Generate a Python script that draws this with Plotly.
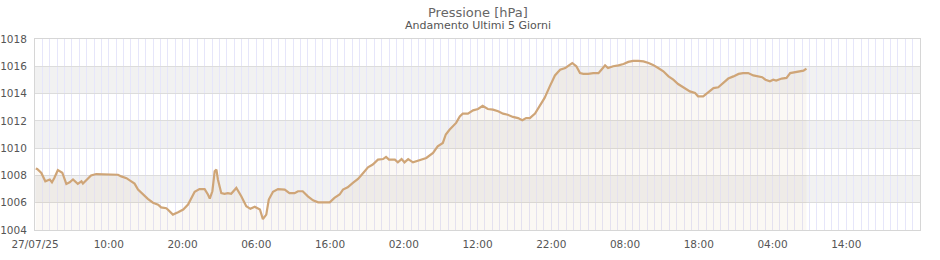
import pandas as pd
import plotly.graph_objects as go

# ---- data ----
start = "2025-07-27 00:00"
hours = [0.1, 0.3, 0.86, 1.4, 2.0, 2.3, 2.6, 3.1, 3.7, 4.25, 4.7, 5.15, 5.8, 6.3, 6.5, 7.0, 7.6, 8.3,
         9.2, 10.6, 11.25, 11.7, 12.4, 13.05, 13.5, 13.97, 14.6, 15.3, 16.0, 16.7, 17.1, 17.8, 18.0,
         18.7, 19.4, 20.1, 20.75, 21.2, 21.65, 22.3, 23.0, 23.45, 23.7, 24.05, 24.36, 24.6, 24.8,
         25.26, 25.7, 26.15, 26.6, 27.3, 27.97, 28.65, 29.2, 29.8, 30.5, 30.9, 31.36, 31.7, 32.27,
         32.95, 33.86, 34.5, 35.2, 35.66, 36.3, 37.0, 37.7, 38.4, 39.96, 40.6, 41.3, 41.76, 42.4,
         43.1, 43.8, 44.5, 45.15, 45.8, 46.5, 47.2, 47.6, 48.0, 48.8, 49.2, 49.7, 50.1, 50.6, 51.25,
         52.2, 53.06, 53.97, 54.6, 55.3, 55.7, 56.2, 56.7, 57.1, 57.6, 58.0, 58.7, 59.4, 60.07,
         60.7, 61.4, 62.1, 62.8, 63.46, 64.1, 64.8, 65.5, 66.07, 66.6, 67.1, 67.8, 68.4, 69.1, 69.8,
         70.5, 71.2, 71.9, 72.4, 72.85, 73.4, 73.9, 74.35, 75.0, 75.7, 76.4, 76.8, 77.3, 77.7, 78.4,
         79.1, 79.8, 80.45, 81.1, 81.8, 82.5, 83.2, 83.8, 84.5, 85.2, 85.9, 86.55, 87.2, 88.1, 88.8,
         89.5, 89.9, 90.6, 91.3, 92.0, 92.65, 93.3, 94.0, 94.7, 95.4, 96.0, 96.7, 97.4, 98.0, 98.6,
         99.05, 99.65, 100.1, 100.5, 101.25, 101.9, 102.4, 103.05, 103.7, 104.2, 104.6]
pressure = [1008.5, 1008.47, 1008.18, 1007.57, 1007.7, 1007.5, 1007.8, 1008.4, 1008.2, 1007.38, 1007.5,
            1007.7, 1007.38, 1007.57, 1007.4, 1007.7, 1008.0, 1008.1, 1008.1, 1008.1, 1008.05, 1007.93,
            1007.8, 1007.57, 1007.4, 1006.96, 1006.6, 1006.28, 1006.0, 1005.86, 1005.66, 1005.6, 1005.5,
            1005.13, 1005.3, 1005.5, 1005.86, 1006.35, 1006.8, 1007.0, 1007.0, 1006.6, 1006.3, 1006.84,
            1008.3, 1008.43, 1007.7, 1006.7, 1006.65, 1006.7, 1006.65, 1007.08, 1006.47, 1005.74,
            1005.55, 1005.7, 1005.5, 1004.8, 1005.13, 1006.23, 1006.8, 1007.0, 1006.96, 1006.7, 1006.7,
            1006.84, 1006.84, 1006.47, 1006.18, 1006.03, 1006.03, 1006.35, 1006.6, 1006.96, 1007.13,
            1007.45, 1007.74, 1008.18, 1008.6, 1008.8, 1009.16, 1009.2, 1009.36, 1009.16, 1009.16,
            1008.96, 1009.2, 1008.96, 1009.2, 1008.96, 1009.1, 1009.28, 1009.65, 1010.13, 1010.38,
            1011.0, 1011.35, 1011.65, 1011.85, 1012.33, 1012.53, 1012.53, 1012.77, 1012.87, 1013.1,
            1012.87, 1012.82, 1012.7, 1012.53, 1012.45, 1012.29, 1012.2, 1012.04, 1012.2, 1012.2,
            1012.53, 1013.06, 1013.68, 1014.53, 1015.33, 1015.75, 1015.87, 1016.07, 1016.24, 1016.0,
            1015.5, 1015.44, 1015.44, 1015.5, 1015.5, 1015.75, 1016.07, 1015.87, 1016.0, 1016.07,
            1016.17, 1016.32, 1016.4, 1016.4, 1016.36, 1016.24, 1016.1, 1015.87, 1015.63, 1015.26,
            1015.02, 1014.7, 1014.4, 1014.16, 1014.04, 1013.8, 1013.8, 1014.12, 1014.4, 1014.46,
            1014.78, 1015.1, 1015.26, 1015.44, 1015.5, 1015.5, 1015.33, 1015.26, 1015.2, 1015.02,
            1014.9, 1015.02, 1014.95, 1015.1, 1015.15, 1015.5, 1015.58, 1015.63, 1015.68, 1015.83]
tick_hours = [0, 10, 20, 30, 40, 50, 60, 70, 80, 90, 100, 110]
tick_labels = ["27/07/25", "10:00", "20:00", "06:00", "16:00", "02:00", "12:00", "22:00",
               "08:00", "18:00", "04:00", "14:00"]
y_ticks = [1004, 1006, 1008, 1010, 1012, 1014, 1016, 1018]
band_ranges = [(1006, 1008), (1010, 1012), (1014, 1016)]
x_span_hours = [0, 120]

t0 = pd.Timestamp(start)
times = [t0 + pd.Timedelta(hours=h) for h in hours]
tickvals = [t0 + pd.Timedelta(hours=h) for h in tick_hours]
xrange = [t0 + pd.Timedelta(hours=h) for h in x_span_hours]

FONT = "DejaVu Sans"
TXT = "#555555"
M_L, M_R, M_T, M_B = 35, 20, 39, 30
W, H = 940, 260
plot_h = H - M_T - M_B

fig = go.Figure()
fig.add_trace(go.Scatter(
    x=times, y=pressure, mode="lines",
    line=dict(color="#cfa577", width=2.2),
    fill="tozeroy", fillcolor="rgba(210,160,110,0.08)",
    hoverinfo="skip", showlegend=False,
))

shapes = []
for lo, hi in band_ranges:
    shapes.append(dict(type="rect", xref="paper", yref="y", x0=0, x1=1, y0=lo, y1=hi,
                       fillcolor="rgba(236,236,236,0.72)", line=dict(width=0), layer="between"))

fig.update_layout(
    width=W, height=H,
    margin=dict(l=M_L, r=M_R, t=M_T, b=M_B, autoexpand=False),
    paper_bgcolor="white", plot_bgcolor="white",
    font=dict(family=FONT, size=10.5, color=TXT),
    shapes=shapes,
    annotations=[
        dict(text="Pressione [hPa]", x=0.5, xref="paper", y=1 + (M_T - 12) / plot_h, yref="paper",
             yanchor="middle", showarrow=False, font=dict(size=13, color="#666666")),
        dict(text="Andamento Ultimi 5 Giorni", x=0.5, xref="paper", y=1 + (M_T - 26) / plot_h,
             yref="paper", yanchor="middle", showarrow=False, font=dict(size=11, color="#555555")),
    ],
)

fig.update_xaxes(
    range=xrange, tickvals=tickvals, ticktext=tick_labels, automargin=False,
    showgrid=True, gridcolor="#e6e6fa", gridwidth=1,
    minor=dict(dtick=3600000, showgrid=True, gridcolor="#e6e6fa", gridwidth=1),
    showline=True, linecolor="#d6d6d6", linewidth=1, mirror=True,
    ticks="", ticklabelstandoff=4, tickfont=dict(size=10.5, color=TXT), zeroline=False,
)
fig.update_yaxes(
    range=[1004, 1018], tickvals=y_ticks, automargin=False,
    showgrid=True, gridcolor="#dcdcdc", gridwidth=1,
    showline=True, linecolor="#d6d6d6", linewidth=1, mirror=True,
    ticks="", ticklabelstandoff=5, tickfont=dict(size=10.5, color=TXT), zeroline=False,
)

fig.write_html("out.html")
